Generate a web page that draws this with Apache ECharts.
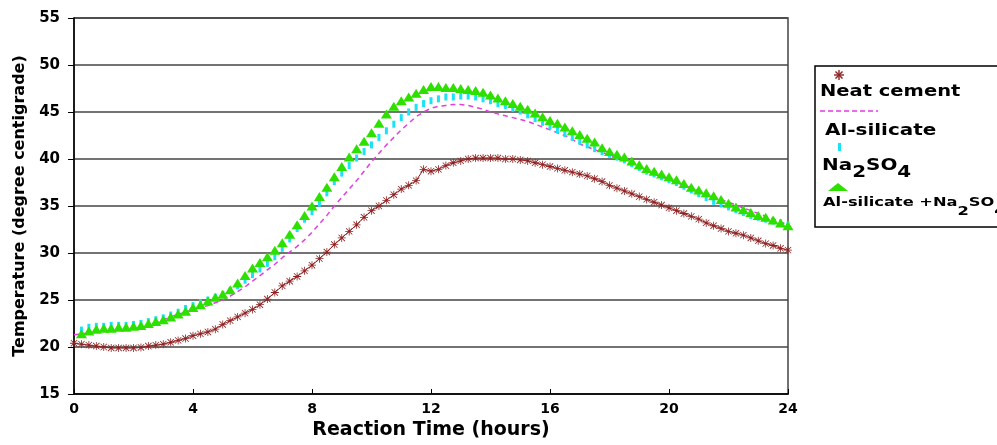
<!DOCTYPE html>
<html>
<head>
<meta charset="utf-8">
<script src="https://cdn.jsdelivr.net/npm/echarts@6/dist/echarts.min.js"></script>
<style>
html,body{margin:0;padding:0;background:#fff;}
#chart{width:997px;height:445px;}
</style>
</head>
<body>
<div id="chart"></div>
<script>
// sampling grid: every 0.25 h from 0 to 24
const times = [];
for (let i = 0; i <= 96; i++) times.push(i * 0.25);

const xTicks = { min: 0, max: 24, interval: 4 };
const yTicks = { min: 15, max: 55, interval: 5 };

const neatCement = [
  20.4, 20.3, 20.2, 20.1,
  20.0, 19.9, 19.9, 19.9,
  19.9, 19.95, 20.1, 20.2,
  20.3, 20.5, 20.7, 20.9,
  21.2, 21.4, 21.6, 21.9,
  22.4, 22.8, 23.2, 23.6,
  24.0, 24.5, 25.1, 25.8,
  26.5, 27.0, 27.5, 28.1,
  28.7, 29.4, 30.1, 30.9,
  31.6, 32.3, 33.0, 33.8,
  34.5, 35.0, 35.6, 36.2,
  36.8, 37.2, 37.7, 38.9,
  38.7, 38.9, 39.3, 39.6,
  39.8, 40.0, 40.1, 40.1,
  40.1, 40.1, 40.0, 40.0,
  39.9, 39.8, 39.6, 39.4,
  39.2, 39.0, 38.8, 38.6,
  38.4, 38.2, 37.9, 37.6,
  37.2, 36.9, 36.6, 36.3,
  36.0, 35.7, 35.4, 35.1,
  34.8, 34.5, 34.2, 33.9,
  33.6, 33.2, 32.9, 32.6,
  32.3, 32.1, 31.9, 31.6,
  31.3, 31.0, 30.8, 30.5,
  30.3
];

const alSilicate = [
  21.3, 21.4, 21.5, 21.6,
  21.7, 21.7, 21.8, 21.8,
  21.9, 22.1, 22.3, 22.6,
  22.9, 23.2, 23.5, 23.7,
  24.0, 24.2, 24.4, 24.7,
  25.0, 25.4, 25.9, 26.4,
  27.0, 27.6, 28.2, 28.8,
  29.5, 30.1, 30.7, 31.4,
  32.2, 33.1, 34.0, 35.0,
  35.9, 36.8, 37.7, 38.7,
  39.7, 40.6, 41.5, 42.3,
  43.1, 43.8, 44.5, 45.0,
  45.4, 45.6, 45.7, 45.8,
  45.8, 45.7, 45.5, 45.3,
  45.0, 44.8, 44.6, 44.4,
  44.2, 44.0, 43.7, 43.4,
  43.1, 42.8, 42.5, 42.1,
  41.6, 41.3, 41.0, 40.7,
  40.4, 40.1, 39.8, 39.4,
  39.0, 38.7, 38.4, 38.1,
  37.8, 37.5, 37.2, 36.9,
  36.6, 36.3, 36.0, 35.7,
  35.4, 35.1, 34.8, 34.5,
  34.2, 33.9, 33.6, 33.3,
  33.0
];

const na2so4 = [
  null, 21.8, 22.1, 22.2,
  22.2, 22.3, 22.3, 22.3,
  22.4, 22.5, 22.7, 22.9,
  23.1, 23.4, 23.7, 24.1,
  24.4, 24.7, 25.0, 25.3,
  25.6, 26.0, 26.5, 27.1,
  27.7, 28.3, 28.9, 29.6,
  30.5, 31.5, 32.6, 33.6,
  34.4, 35.3, 36.4, 37.6,
  38.5, 39.3, 40.1, 40.8,
  41.5, 42.3, 43.0, 43.7,
  44.4, 45.0, 45.5, 45.9,
  46.2, 46.4, 46.6, 46.6,
  46.7, 46.7, 46.6, 46.4,
  46.2, 45.9, 45.7, 45.4,
  45.1, 44.7, 44.3, 43.9,
  43.5, 43.1, 42.7, 42.3,
  41.9, 41.5, 41.1, 40.8,
  40.5, 40.2, 39.9, 39.5,
  39.1, 38.7, 38.4, 38.1,
  37.8, 37.5, 37.1, 36.7,
  36.3, 35.9, 35.5, 35.2,
  34.9, 34.6, 34.3, 34.0,
  33.8, 33.6, 33.4, 33.2,
  33.0
];

const alSilicateNa2so4 = [
  null, 21.4, 21.7, 21.9,
  22.0, 22.0, 22.1, 22.1,
  22.2, 22.3, 22.5, 22.7,
  22.9, 23.2, 23.5, 23.8,
  24.2, 24.5, 24.9, 25.3,
  25.6, 26.1, 26.8, 27.6,
  28.4, 29.0, 29.6, 30.3,
  31.1, 32.0, 33.0, 34.0,
  35.0, 36.0, 37.0, 38.1,
  39.2, 40.2, 41.1, 41.9,
  42.8, 43.8, 44.8, 45.6,
  46.2, 46.6, 47.0, 47.4,
  47.7, 47.7, 47.6, 47.6,
  47.5, 47.4, 47.3, 47.1,
  46.8, 46.5, 46.2, 45.9,
  45.6, 45.3, 44.9, 44.5,
  44.1, 43.8, 43.4, 43.0,
  42.6, 42.2, 41.8, 41.2,
  40.8, 40.5, 40.2, 39.8,
  39.4, 39.0, 38.7, 38.4,
  38.1, 37.8, 37.4, 37.0,
  36.7, 36.4, 36.1, 35.7,
  35.3, 34.9, 34.6, 34.3,
  34.0, 33.8, 33.5, 33.2,
  32.9
];

const seriesNames = ['Neat cement', 'Al-silicate', 'Na2SO4', 'Al-silicate +Na2SO4'];

const pair = arr => times.map((t, i) => [t, arr[i]]);

const asteriskPath = 'path://M4.5,0 h1 v10 h-1 z M0,4.5 h10 v1 h-10 z M0.7,1.4 L1.4,0.7 L9.3,8.6 L8.6,9.3 Z M8.6,0.7 L9.3,1.4 L1.4,9.3 L0.7,8.6 Z';

const FONT = 'DejaVu Sans';
const brown = '#8e2222';
const magenta = '#e23ee2';
const cyan = '#19e3f5';
const green = '#2de000';

const chart = echarts.init(document.getElementById('chart'));

const legendText = (x, y, base, size, scale) => ({
  type: 'text', x: x, y: y, scaleX: scale, z: 100,
  style: {
    text: base,
    rich: {
      m: { fontFamily: FONT, fontWeight: 'bold', fontSize: size, lineHeight: 18, verticalAlign: 'top', fill: '#000' },
      s: { fontFamily: FONT, fontWeight: 'bold', fontSize: size, lineHeight: 22, verticalAlign: 'bottom', fill: '#000' }
    },
    fontFamily: FONT, fontWeight: 'bold', fontSize: size, fill: '#000',
    align: 'left', verticalAlign: 'middle'
  }
});

// legend asterisk drawn from 4 short strokes
const ax = 839, ay = 75, ar = 5;
const star = [[0, 1], [1, 0], [0.707, 0.707], [0.707, -0.707]].map(d => ({
  type: 'line', z: 100,
  shape: { x1: ax - d[0] * ar, y1: ay - d[1] * ar, x2: ax + d[0] * ar, y2: ay + d[1] * ar },
  style: { stroke: brown, lineWidth: 1.4 }
}));

const option = {
  animation: false,
  backgroundColor: '#fff',
  grid: { left: 74, right: 209, top: 18, bottom: 46, show: true, borderColor: '#444', borderWidth: 1.5 },
  xAxis: {
    type: 'value', min: xTicks.min, max: xTicks.max, interval: xTicks.interval,
    name: 'Reaction Time (hours)', nameLocation: 'middle', nameGap: 27,
    nameTextStyle: { fontFamily: FONT, fontWeight: 'bold', fontSize: 19, color: '#000' },
    axisLine: { lineStyle: { color: '#000', width: 1.5 } },
    axisTick: { inside: true, length: 5, lineStyle: { color: '#000', width: 1 } },
    splitLine: { show: false },
    axisLabel: { color: '#000', fontFamily: FONT, fontWeight: 'bold', fontSize: 14, margin: 8 }
  },
  yAxis: {
    type: 'value', min: yTicks.min, max: yTicks.max, interval: yTicks.interval,
    name: 'Temperature (degree centigrade)', nameLocation: 'middle', nameGap: 44,
    nameTextStyle: { fontFamily: FONT, fontWeight: 'bold', fontSize: 16, color: '#000' },
    axisLine: { show: true, lineStyle: { color: '#000', width: 1.5 } },
    axisTick: { show: true, length: 6, lineStyle: { color: '#000', width: 1 } },
    splitLine: { show: true, lineStyle: { color: '#444', width: 1.5 } },
    axisLabel: { color: '#000', fontFamily: FONT, fontWeight: 'bold', fontSize: 15, margin: 14 }
  },
  series: [
    {
      name: seriesNames[0], type: 'line', data: pair(neatCement),
      symbol: asteriskPath, symbolSize: 8, showAllSymbol: true,
      itemStyle: { color: brown },
      lineStyle: { color: brown, width: 1 }
    },
    {
      name: seriesNames[1], type: 'line', data: pair(alSilicate),
      symbol: 'none',
      lineStyle: { color: magenta, width: 1.5, type: [5, 4] }
    },
    {
      name: seriesNames[2], type: 'line', data: pair(na2so4),
      symbol: 'rect', symbolSize: [3, 7], showAllSymbol: true,
      itemStyle: { color: cyan },
      lineStyle: { width: 0, opacity: 0 }
    },
    {
      name: seriesNames[3], type: 'line', data: pair(alSilicateNa2so4),
      symbol: 'triangle', symbolSize: [11, 9], showAllSymbol: true,
      itemStyle: { color: green },
      lineStyle: { width: 0, opacity: 0 }
    }
  ],
  graphic: [
    { type: 'rect', z: 90, shape: { x: 815, y: 66, width: 200, height: 161 }, style: { fill: '#fff', stroke: '#000', lineWidth: 1.5 } },
    ...star,
    legendText(820, 94, '{m|Neat cement}', 15, 1.3),
    { type: 'line', z: 100, shape: { x1: 820, y1: 111, x2: 878, y2: 111 }, style: { stroke: magenta, lineWidth: 1.5, lineDash: [5, 3] } },
    legendText(825, 133, '{m|Al-silicate}', 15, 1.33),
    { type: 'rect', z: 100, shape: { x: 838, y: 143, width: 3, height: 8 }, style: { fill: cyan } },
    legendText(822, 170, '{m|Na}{s|2}{m|SO}{s|4}', 15, 1.33),
    { type: 'polygon', z: 100, shape: { points: [[828, 191], [838, 183], [848, 191]] }, style: { fill: green } },
    legendText(823, 207, '{m|Al-silicate +Na}{s|2}{m|SO}{s|4}', 13, 1.25)
  ]
};

chart.setOption(option);
</script>
</body>
</html>
